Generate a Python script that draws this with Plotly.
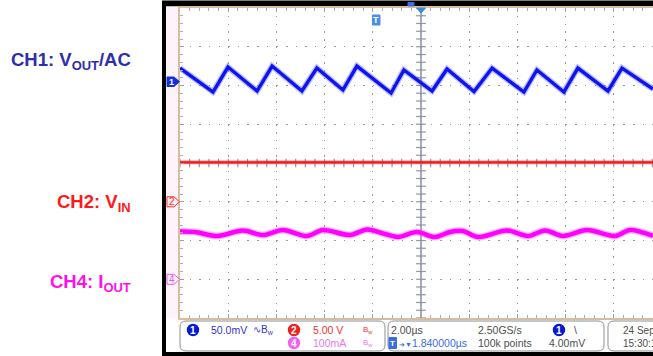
import numpy as np
import plotly.graph_objects as go

# ---------------- data ----------------
# time in microseconds, trigger at 0, 2 us/div
T_CH1 = [-10.0, -8.63, -8.01, -6.80, -6.18, -4.94, -4.32, -3.24, -2.66, -1.24, -0.71,
         0.46, 1.08, 2.20, 2.95, 4.27, 4.81, 5.93, 6.51, 7.76, 8.34, 9.63]
V_CH1_MV = [17.5, -13.4, 18.8, -12.1, 20.1, -12.1, 17.5, -10.8, 20.1, -14.7, 15.0,
            -12.1, 16.3, -12.8, 17.5, -13.4, 15.0, -13.4, 17.5, -12.1, 17.5, -9.5]

T_CH2 = [-10.0, 9.63]
V_CH2_V = [5.1, 5.1]

T_CH4 = [-10.0, -9.38, -8.46, -7.39, -6.56, -5.73, -4.73, -4.07, -2.95, -2.24, -1.49, -0.95,
         -0.17, 0.58, 1.20, 1.74, 2.37, 3.57, 4.44, 5.15, 5.89, 6.89, 8.05, 8.67, 9.63]
I_CH4_MA = [123.2, 121.9, 111.6, 125.8, 114.2, 127.1, 111.6, 127.1, 114.2, 128.4, 116.8, 109.1,
            121.9, 109.1, 121.9, 124.5, 109.1, 125.8, 111.6, 125.8, 111.6, 127.1, 111.6, 127.1, 111.6]

# channel settings: units/div and ground-marker position (divisions from centre)
CH1_SCALE, CH1_POS = 50.0, 2.1
CH2_SCALE, CH2_POS = 5.0, -1.0
CH4_SCALE, CH4_POS = 100.0, -3.0
X_RANGE = [-10.0, 9.627]

LABEL_CH1 = "<b>CH1: V<sub>OUT</sub>/AC</b>"
LABEL_CH2 = "<b>CH2: V<sub>IN</sub></b>"
LABEL_CH4 = "<b>CH4: I<sub>OUT</sub></b>"


def ch_range(scale, pos):
    return [(-4 - pos) * scale, (4 - pos) * scale]


# ---------------- pixel helpers for decorations ----------------
PL, PT, PW, PH = 180, 8, 473, 310


def px(x):
    return (x - PL) / PW


def py(y):
    return (PT + PH - y) / PH


def rect(x0, y0, x1, y1, fill, line=None, lw=0, layer="below"):
    return dict(type="rect", xref="paper", yref="paper", x0=px(x0), x1=px(x1),
                y0=py(y1), y1=py(y0), fillcolor=fill,
                line=dict(color=line or fill, width=lw), layer=layer)


def poly(pts, fill, line, lw=1, layer="above"):
    p = "M " + " L ".join(f"{px(a):.5f},{py(b):.5f}" for a, b in pts) + " Z"
    return dict(type="path", xref="paper", yref="paper", path=p, fillcolor=fill,
                line=dict(color=line, width=lw), layer=layer)


def rrect(x0, y0, x1, y1, r, line, fill="white", lw=1):
    def P(a, b):
        return f"{px(a):.5f},{py(b):.5f}"
    p = (f"M {P(x0 + r, y0)} L {P(x1 - r, y0)} Q {P(x1, y0)} {P(x1, y0 + r)} "
         f"L {P(x1, y1 - r)} Q {P(x1, y1)} {P(x1 - r, y1)} L {P(x0 + r, y1)} "
         f"Q {P(x0, y1)} {P(x0, y1 - r)} L {P(x0, y0 + r)} Q {P(x0, y0)} {P(x0 + r, y0)} Z")
    return dict(type="path", xref="paper", yref="paper", path=p, fillcolor=fill,
                line=dict(color=line, width=lw), layer="below")


def circ(cx, cy, r, fill):
    return dict(type="circle", xref="paper", yref="paper", x0=px(cx - r), x1=px(cx + r),
                y0=py(cy + r), y1=py(cy - r), fillcolor=fill, line=dict(color=fill, width=0),
                layer="above")


SANS = "Liberation Sans, Arial, sans-serif"


def txt(x, y, s, color, size=10.5, anchor="left", family=SANS):
    return dict(x=px(x), y=py(y), xref="paper", yref="paper", text=s, showarrow=False,
                xanchor=anchor, yanchor="middle",
                font=dict(color=color, size=size, family=family))


fig = go.Figure()

# centre crosshair tick marks (graticule decoration)
GRID_C = "#8d95a8"
vy = np.round(np.arange(-4, 4.0001, 0.2), 4)
fig.add_trace(go.Scatter(x=np.zeros_like(vy), y=vy, mode="markers", hoverinfo="skip", showlegend=False,
                         marker=dict(symbol="line-ew", size=7, line=dict(color=GRID_C, width=1.2))))
hx = np.round(np.arange(-10, 9.63, 0.4), 4)
fig.add_trace(go.Scatter(x=hx, y=np.zeros_like(hx), mode="markers", hoverinfo="skip", showlegend=False,
                         marker=dict(symbol="line-ns", size=6, line=dict(color=GRID_C, width=1.2))))

# CH2 (red)
fig.add_trace(go.Scatter(x=T_CH2, y=V_CH2_V, yaxis="y3", mode="lines", hoverinfo="skip", showlegend=False,
                         line=dict(color="rgba(255,60,60,0.35)", width=4.5)))
fig.add_trace(go.Scatter(x=T_CH2, y=V_CH2_V, yaxis="y3", mode="lines", hoverinfo="skip", showlegend=False,
                         line=dict(color="#ff1010", width=2.2)))
# CH4 (magenta)
fig.add_trace(go.Scatter(x=T_CH4, y=I_CH4_MA, yaxis="y4", mode="lines", hoverinfo="skip", showlegend=False,
                         line=dict(color="rgba(255,80,255,0.4)", width=7, shape="spline", smoothing=0.9)))
fig.add_trace(go.Scatter(x=T_CH4, y=I_CH4_MA, yaxis="y4", mode="lines", hoverinfo="skip", showlegend=False,
                         line=dict(color="#ff00ff", width=4.5, shape="spline", smoothing=0.9)))
# CH1 (blue)
fig.add_trace(go.Scatter(x=T_CH1, y=V_CH1_MV, yaxis="y2", mode="lines", hoverinfo="skip", showlegend=False,
                         line=dict(color="rgba(90,90,255,0.4)", width=6)))
fig.add_trace(go.Scatter(x=T_CH1, y=V_CH1_MV, yaxis="y2", mode="lines", hoverinfo="skip", showlegend=False,
                         line=dict(color="#0c14f2", width=3.4)))

TAN = "#d9bb9f"
shapes = [
    rect(162, 0.5, 700, 356, "black"),
    rect(166, 6.5, 700, 352, "white"),
    rect(166, 6.5, 180, 318, "#fcf3fb"),
    # centre crosshair
    dict(type="line", xref="x", yref="paper", x0=0, x1=0, y0=0, y1=1,
         line=dict(color=GRID_C, width=1.6), layer="below"),
    dict(type="line", xref="paper", yref="y", x0=0, x1=1, y0=0, y1=0,
         line=dict(color=GRID_C, width=1.4), layer="below"),
    # status boxes
    rrect(180, 321, 385, 351, 6, "#8f8f8f"),
    rrect(388, 321, 604, 351, 6, "#8f8f8f"),
    rrect(608, 321, 720, 351, 6, "#8f8f8f"),
    # channel ground markers
    poly([(167, 77), (174, 77), (179.5, 81.6), (174, 86.5), (167, 86.5)], "#1030e0", "#1030e0"),
    poly([(167, 196.8), (174, 196.8), (179.5, 201.75), (174, 206.8), (167, 206.8)], "#fff0f0", "#ff2a2a"),
    poly([(167, 274.3), (174, 274.3), (179.5, 279.25), (174, 284.3), (167, 284.3)], "#fff0ff", "#e060e0"),
    # trigger markers
    poly([(372.5, 15), (380, 15), (380, 25), (372.5, 25)], "#4a8ee6", "#4a8ee6"),
    poly([(416.5, 8), (425.5, 8), (421, 13)], "#3a8ae8", "#3a8ae8"),
    poly([(408, 2.5), (414, 2.5), (414, 6), (408, 6)], "#3a6ee8", "#3a6ee8"),
    # status circles
    circ(193, 330, 6.2, "#0818d8"),
    circ(294, 330, 6.2, "#ee2020"),
    circ(294, 343, 6.2, "#f060f0"),
    circ(559, 330, 6.2, "#0818d8"),
    poly([(389, 337.5), (396.5, 337.5), (396.5, 348.5), (389, 348.5)], "#3a6ee0", "#3a6ee0"),
]

GREY = "#4e4e4e"
annotations = [
    txt(133, 61, LABEL_CH1, "#2e2eac", size=18.5, anchor="right"),
    txt(133, 203, LABEL_CH2, "#ff1a1a", size=18.5, anchor="right"),
    txt(133, 283, LABEL_CH4, "#ff10f0", size=18.5, anchor="right"),
    # markers' numbers
    txt(171.5, 81.8, "<b>1</b>", "white", size=9, anchor="center"),
    txt(172, 201.9, "2", "#ff2a2a", size=10, anchor="center"),
    txt(172, 279.4, "4", "#e060e0", size=10, anchor="center"),
    txt(376.3, 20.2, "<b>T</b>", "white", size=9, anchor="center"),
    # status bar
    txt(193, 330, "<b>1</b>", "white", size=10, anchor="center"),
    txt(294, 330, "<b>2</b>", "white", size=10, anchor="center"),
    txt(294, 343, "<b>4</b>", "white", size=10, anchor="center"),
    txt(559, 330, "<b>1</b>", "white", size=10, anchor="center"),
    txt(392.8, 343, "<b>T</b>", "white", size=8, anchor="center"),
    txt(209, 330, "50.0mV", "#3434d0"),
    txt(251, 330, "∿B<sub>w</sub>", "#3434d0", size=10),
    txt(311, 330, "5.00 V", "#ee3030"),
    txt(361, 330, "B<sub>w</sub>", "#ee3030", size=8),
    txt(311, 343, "100mA", "#e878e8"),
    txt(361, 343, "B<sub>w</sub>", "#e878e8", size=8),
    txt(389, 330, "2.00µs", GREY),
    txt(397, 343, "<span style='font-size:7px'>➔▼</span>1.840000µs", "#3a6ee0"),
    txt(476, 330, "2.50GS/s", GREY),
    txt(476, 343, "100k points", GREY),
    txt(572, 330, "\\", GREY),
    txt(547, 343, "4.00mV", GREY),
    txt(621, 330, "24 Sep", GREY, size=10),
    txt(621, 343, "15:30:1", GREY, size=10),
]

fig.update_layout(
    width=653, height=356,
    margin=dict(l=PL, r=0, t=PT, b=356 - PT - PH, pad=0),
    paper_bgcolor="white", plot_bgcolor="rgba(0,0,0,0)",
    showlegend=False,
    xaxis=dict(range=X_RANGE, tick0=0, dtick=2, showgrid=True, gridcolor="#9a9a9a", gridwidth=1.3,
               griddash="1.5px,6.25px", zeroline=False, showline=True, linecolor=TAN, linewidth=1.5,
               mirror="ticks", ticks="inside", ticklen=4, tickcolor="#a0a0a0", showticklabels=False,
               minor=dict(dtick=0.4, tick0=0, ticks="inside", ticklen=3, tickcolor="#b0b0b0", showgrid=False),
               fixedrange=True),
    yaxis=dict(range=[-4, 4], tick0=0, dtick=1, showgrid=True, gridcolor="#9a9a9a", gridwidth=1.3,
               griddash="1.5px,8.14px", zeroline=False, showline=True, linecolor=TAN, linewidth=1.5,
               mirror=False, ticks="inside", ticklen=4, tickcolor="#a0a0a0", showticklabels=False,
               minor=dict(dtick=0.2, tick0=0, ticks="inside", ticklen=3, tickcolor="#b0b0b0", showgrid=False),
               fixedrange=True),
    yaxis2=dict(range=ch_range(CH1_SCALE, CH1_POS), overlaying="y", visible=False, fixedrange=True),
    yaxis3=dict(range=ch_range(CH2_SCALE, CH2_POS), overlaying="y", visible=False, fixedrange=True),
    yaxis4=dict(range=ch_range(CH4_SCALE, CH4_POS), overlaying="y", visible=False, fixedrange=True),
    shapes=shapes,
    annotations=annotations,
)

fig.write_html("out.html")
